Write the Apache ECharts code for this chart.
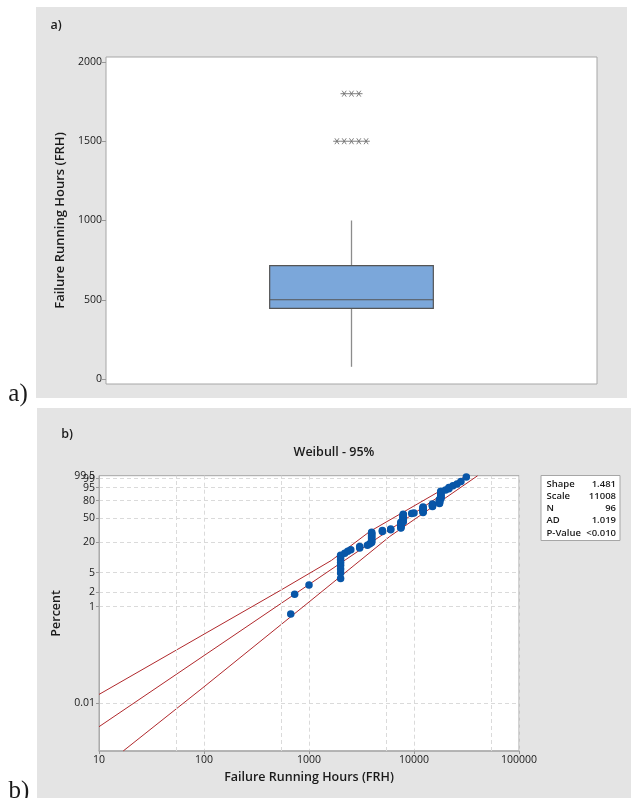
<!DOCTYPE html>
<html lang="en">
  <head>
    <meta charset="UTF-8" />
    <title>Failure Running Hours</title>
    <script src="https://cdn.jsdelivr.net/npm/echarts@6/dist/echarts.min.js"></script>
    <style>
      html,
      body {
        margin: 0;
        padding: 0;
        background: #fff;
      }
      #chart {
        width: 631px;
        height: 798px;
      }
    </style>
  </head>
  <body>
    <div id="chart"></div>
    <script>
      // a) box plot: low whisker, Q1, median, Q3, high whisker
      const boxStats = [77, 446, 500, 715, 1000];
      const outliers = [1500, 1500, 1500, 1500, 1500, 1800, 1800, 1800];
      const boxTicks = [0, 500, 1000, 1500, 2000];

      // b) Weibull probability plot (hours vs percent)
      const hours = [
        670, 730, 1000,
        2000, 2000, 2000, 2000, 2000, 2000, 2000, 2000,
        2190, 2340, 2500, 3040, 3040, 3600, 3800,
        3950, 3950, 3950, 3950, 3950, 3950, 3950, 3950, 3950, 3950, 3950,
        5000, 5000, 6000, 6000,
        7500, 7500, 7500, 7500, 7500, 7500, 7500, 7500, 7500,
        7900, 7900, 7900, 7900, 7900, 7900, 7900, 7900, 7900, 7900, 7900, 7900, 7900,
        9500, 10000,
        12200, 12200, 12200, 12200, 12200, 12200, 12200, 12200, 12200, 12200,
        15000, 15000, 15000, 15000, 15000,
        17500, 17500, 17500, 17500, 17500, 17500, 17500,
        18000, 18000, 18000, 18000, 18000, 18000, 18000, 18000, 18000, 18000,
        20000, 21500, 21500, 23500, 25700, 28000, 31500,
      ];
      const percent = [
        0.7, 1.8, 2.8,
        3.8, 4.9, 5.9, 7.0, 8.0, 9.0, 10.1, 11.1,
        12.1, 13.2, 14.2, 15.3, 16.3, 17.3, 18.4,
        19.4, 20.4, 21.5, 22.5, 23.6, 24.6, 25.6, 26.7, 27.7, 28.7, 29.8,
        30.8, 31.8, 32.9, 33.9,
        35.0, 36.0, 37.0, 38.1, 39.1, 40.1, 41.2, 42.2, 43.3,
        44.3, 45.3, 46.4, 47.4, 48.4, 49.5, 50.5, 51.6, 52.6, 53.6, 54.7, 55.7, 56.7,
        57.8, 58.8,
        59.9, 60.9, 61.9, 63.0, 64.0, 65.0, 66.1, 67.1, 68.2, 69.2,
        70.2, 71.3, 72.3, 73.3, 74.4,
        75.4, 76.5, 77.5, 78.5, 79.6, 80.6, 81.6,
        82.7, 83.7, 84.8, 85.8, 86.8, 87.9, 88.9, 89.9, 91.0, 92.0,
        93.0, 94.1, 95.1, 96.2, 97.2, 98.2, 99.3,
      ];
      const fitLine = [[10, 0.0032], [33900, 99.5]];
      const upperCI = [[10, 0.015], [100, 0.268], [536, 2.17], [1637, 8.78], [3785, 30.6], [31550, 99.5]];
      const lowerCI = [[17, 0.001], [100, 0.0216], [1000, 1.245], [5875, 25.1], [40400, 99.5]];
      const pctTicks = ["99", "95", "80", "50", "20", "5", "2", "1", "0.01"];
      const pctTop = "99.5";
      const pctBottom = "0.001";
      const midGrid = [55, 550, 5500, 55000];
      const stats = [
        ["Shape", "1.481"],
        ["Scale", "11008"],
        ["N", "96"],
        ["AD", "1.019"],
        ["P-Value", "<0.010"],
      ];

      const FONT = '"Open Sans", "Noto Sans", sans-serif';
      const weib = (p) => Math.log(-Math.log(1 - p / 100));
      const toPlot = (pts) => pts.map((d) => [d[0], weib(d[1])]);
      const yMin = weib(+pctBottom);
      const yMax = weib(+pctTop);

      const chart = echarts.init(document.getElementById("chart"));

      const outlierData = outliers.map((v, i) => {
        const n = outliers.filter((o) => o === v).length;
        const k = outliers.slice(0, i).filter((o) => o === v).length;
        return [0, v, k, n];
      });

      function renderBox(params, api) {
        const x = api.value(0);
        const lo = api.coord([x, api.value(1)]);
        const q1 = api.coord([x, api.value(2)]);
        const md = api.coord([x, api.value(3)]);
        const q3 = api.coord([x, api.value(4)]);
        const hi = api.coord([x, api.value(5)]);
        const half = api.size([1, 0])[0] / 6;
        const cx = md[0];
        const whisker = { stroke: "#8c8c8c", lineWidth: 1.3 };
        return {
          type: "group",
          children: [
            { type: "line", shape: { x1: cx, y1: hi[1], x2: cx, y2: q3[1] }, style: whisker },
            { type: "line", shape: { x1: cx, y1: q1[1], x2: cx, y2: lo[1] }, style: whisker },
            {
              type: "rect",
              shape: { x: cx - half, y: q3[1], width: half * 2, height: q1[1] - q3[1] },
              style: { fill: "#7ba7da", stroke: "#555", lineWidth: 1.2 },
            },
            {
              type: "line",
              shape: { x1: cx - half, y1: md[1], x2: cx + half, y2: md[1] },
              style: { stroke: "#555", lineWidth: 1.2 },
            },
          ],
        };
      }

      function renderStar(params, api) {
        const c = api.coord([api.value(0), api.value(1)]);
        const cx = c[0] + (api.value(2) - (api.value(3) - 1) / 2) * 7.3;
        const cy = c[1];
        const r = 3.7;
        const st = { stroke: "#707070", lineWidth: 0.9 };
        return {
          type: "group",
          children: [
            { type: "line", shape: { x1: cx - r, y1: cy, x2: cx + r, y2: cy }, style: st },
            { type: "line", shape: { x1: cx - r * 0.55, y1: cy - r * 0.8, x2: cx + r * 0.55, y2: cy + r * 0.8 }, style: st },
            { type: "line", shape: { x1: cx - r * 0.55, y1: cy + r * 0.8, x2: cx + r * 0.55, y2: cy - r * 0.8 }, style: st },
          ],
        };
      }

      function pctLabel(v) {
        let best = pctTicks[0];
        let d = Infinity;
        pctTicks.forEach((t) => {
          const e = Math.abs(weib(+t) - v);
          if (e < d) {
            d = e;
            best = t;
          }
        });
        return best;
      }

      const txt = (text, x, y, size, weight, align, family) => ({
        type: "text",
        z: 100,
        style: {
          text: text,
          x: x,
          y: y,
          font: (weight || "normal") + " " + size + "px " + (family || FONT),
          fill: "#1a1a1a",
          align: align || "center",
          textAlign: align || "center",
          verticalAlign: "middle",
          textVerticalAlign: "middle",
        },
      });

      const statsBox = [
        {
          type: "rect",
          z: 100,
          shape: { x: 541, y: 475.5, width: 79, height: 65 },
          style: { fill: "#fff", stroke: "#a6a6a6", lineWidth: 1 },
        },
      ];
      stats.forEach((s, i) => {
        statsBox.push(txt(s[0], 546.5, 484 + i * 12.2, 9.5, 600, "left"));
        statsBox.push(txt(s[1], 616, 484 + i * 12.2, 9.5, 600, "right"));
      });

      const labelStyle = { fontFamily: FONT, fontSize: 10.5, color: "#1a1a1a" };

      // a helper left axis that only carries one crowded percent label
      const soloLabel = (value, text) => ({
        gridIndex: 1,
        type: "value",
        position: "left",
        min: yMin,
        max: yMax,
        axisLine: { show: false },
        axisTick: { show: false },
        splitLine: { show: false },
        axisLabel: Object.assign(
          { customValues: [value], showMaxLabel: true, showMinLabel: true, margin: 4, formatter: () => text },
          labelStyle
        ),
      });

      const option = {
        animation: false,
        graphic: [
          { type: "rect", z: -10, shape: { x: 36, y: 7, width: 591, height: 391 }, style: { fill: "#e4e4e4" } },
          { type: "rect", z: -10, shape: { x: 37, y: 408, width: 594, height: 390 }, style: { fill: "#e4e4e4" } },
          txt("a)", 56, 25, 12.5, 600),
          txt("b)", 67, 434, 12.5, 600),
          txt("Weibull - 95%", 334, 452.5, 12.5, 600),
          txt("a)", 18, 394, 25, "normal", "center", '"Liberation Serif", serif'),
          txt("b)", 19, 791, 25, "normal", "center", '"Liberation Serif", serif'),
          ...statsBox,
        ],
        grid: [
          { left: 106, width: 491, top: 57, height: 327, show: true, backgroundColor: "#fff", borderColor: "#a6a6a6" },
          { left: 99, width: 420, top: 475.7, height: 275.3, show: true, backgroundColor: "#fff", borderColor: "#a6a6a6" },
        ],
        xAxis: [
          { gridIndex: 0, type: "category", data: [""], show: false },
          {
            gridIndex: 1,
            type: "log",
            logBase: 10,
            min: 10,
            max: 100000,
            name: "Failure Running Hours (FRH)",
            nameLocation: "middle",
            nameGap: 20,
            nameTextStyle: { fontFamily: FONT, fontSize: 12.5, fontWeight: 600, color: "#1a1a1a" },
            axisLine: { show: true, onZero: false, lineStyle: { color: "#acacac", width: 1.5 } },
            axisTick: { show: true, length: 3, lineStyle: { color: "#999" } },
            axisLabel: Object.assign({ margin: 4, formatter: (v) => String(Math.round(v)) }, labelStyle),
            splitLine: { show: true, lineStyle: { type: [4, 3], color: "#dadada" } },
          },
        ],
        yAxis: [
          {
            gridIndex: 0,
            type: "value",
            min: -31.5,
            max: 2031.5,
            name: "Failure Running Hours (FRH)",
            nameLocation: "middle",
            nameGap: 37,
            nameTextStyle: { fontFamily: FONT, fontSize: 13, fontWeight: 600, color: "#1a1a1a" },
            axisLine: { show: false },
            axisTick: { show: true, length: 4, customValues: boxTicks, lineStyle: { color: "#999" } },
            axisLabel: Object.assign({ customValues: boxTicks, margin: 4, formatter: (v) => String(v) }, labelStyle),
            splitLine: { show: false },
          },
          {
            gridIndex: 1,
            type: "value",
            min: yMin,
            max: yMax,
            name: "Percent",
            nameLocation: "middle",
            nameGap: 29,
            nameTextStyle: { fontFamily: FONT, fontSize: 12.5, fontWeight: 600, color: "#1a1a1a" },
            axisLine: { show: true, onZero: false, lineStyle: { color: "#acacac" } },
            axisTick: { show: true, length: 3, customValues: pctTicks.map((t) => weib(+t)), lineStyle: { color: "#999" } },
            axisLabel: Object.assign(
              {
                customValues: pctTicks.slice(1).map((t) => weib(+t)),
                hideOverlap: false,
                showMaxLabel: true,
                showMinLabel: true,
                margin: 4,
                formatter: pctLabel,
              },
              labelStyle
            ),
            splitLine: { show: true, lineStyle: { type: [4, 3], color: "#dadada" } },
          },
          soloLabel(yMax - 0.02, pctTop),
          soloLabel(weib(+pctTicks[0]), pctTicks[0]),
        ],
        series: [
          {
            type: "custom",
            xAxisIndex: 0,
            yAxisIndex: 0,
            renderItem: renderBox,
            encode: { x: 0, y: [1, 2, 3, 4, 5] },
            data: [[0].concat(boxStats)],
          },
          {
            type: "custom",
            xAxisIndex: 0,
            yAxisIndex: 0,
            renderItem: renderStar,
            encode: { x: 0, y: 1 },
            data: outlierData,
          },
          {
            type: "line",
            xAxisIndex: 1,
            yAxisIndex: 1,
            data: toPlot(lowerCI),
            showSymbol: false,
            lineStyle: { color: "#b0282c", width: 1 },
            markLine: {
              silent: true,
              symbol: "none",
              label: { show: false },
              lineStyle: { type: [4, 3], color: "#dadada", width: 1 },
              data: midGrid.map((v) => ({ xAxis: v })),
            },
          },
          {
            type: "line",
            xAxisIndex: 1,
            yAxisIndex: 1,
            data: toPlot(fitLine),
            showSymbol: false,
            lineStyle: { color: "#b0282c", width: 1 },
          },
          {
            type: "line",
            xAxisIndex: 1,
            yAxisIndex: 1,
            data: toPlot(upperCI),
            showSymbol: false,
            lineStyle: { color: "#b0282c", width: 1 },
          },
          {
            type: "scatter",
            xAxisIndex: 1,
            yAxisIndex: 1,
            z: 5,
            symbolSize: 7.5,
            itemStyle: { color: "#0856a8", opacity: 1 },
            data: hours.map((h, i) => [h, weib(percent[i])]),
          },
        ],
      };

      chart.setOption(option);
    </script>
  </body>
</html>
